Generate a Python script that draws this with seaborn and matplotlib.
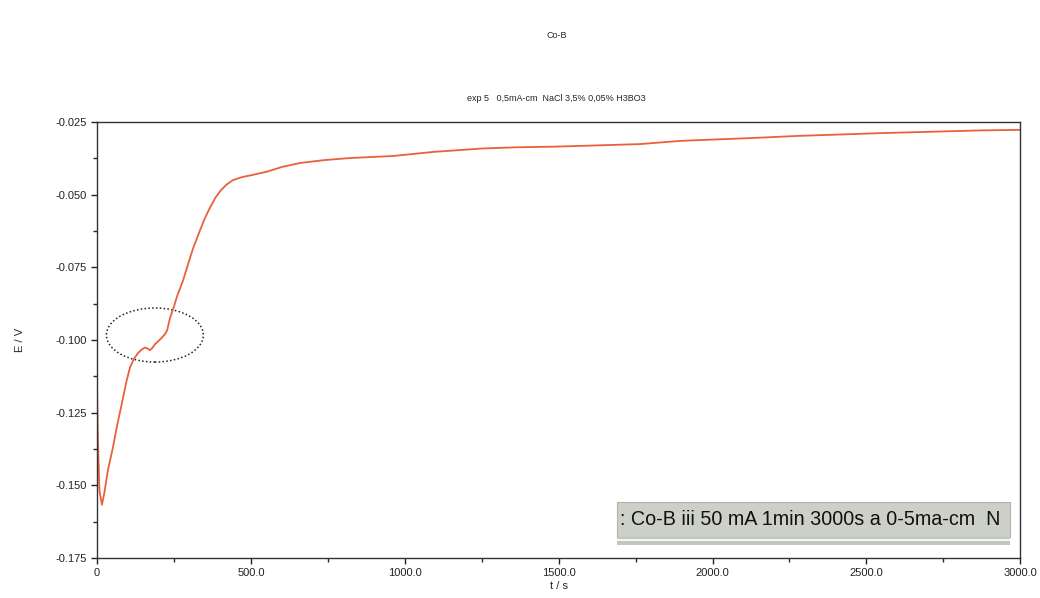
import matplotlib
matplotlib.use("Agg")
import matplotlib.pyplot as plt
from matplotlib.patches import Ellipse, Rectangle
from matplotlib.ticker import MultipleLocator, FuncFormatter
import seaborn as sns
import pandas as pd

sns.set_theme(style="white")
plt.rcParams['font.family'] = ['Liberation Sans', 'DejaVu Sans']

# Data
t_s = [0, 3, 8, 16, 24, 35, 52, 66, 81, 95, 107, 120, 133, 145, 156, 165, 172,
       180, 188, 200, 211, 222, 228, 237, 250, 260, 280, 292, 312, 335, 350, 367,
       385, 400, 420, 442, 470, 497, 552, 600, 660, 740, 822, 962, 1092, 1255,
       1365, 1480, 1580, 1765, 1895, 2132, 2275, 2555, 2870, 3000]
e_v = [-0.117, -0.135, -0.152, -0.1567, -0.1525, -0.1450, -0.1368, -0.129,
       -0.1217, -0.1145, -0.1095, -0.1065, -0.1045, -0.1033, -0.1026, -0.1030,
       -0.1035, -0.1027, -0.1015, -0.1003, -0.0992, -0.0978, -0.0966, -0.0925,
       -0.0885, -0.0850, -0.0794, -0.0752, -0.0685, -0.0622, -0.0582, -0.0545,
       -0.0510, -0.0488, -0.0466, -0.0450, -0.0440, -0.0434, -0.0421, -0.0405,
       -0.0391, -0.0381, -0.0374, -0.0367, -0.0353, -0.0341, -0.0337, -0.0335,
       -0.0332, -0.0326, -0.0315, -0.0305, -0.0298, -0.0288, -0.0279, -0.0277]

x_ticks = [0, 500, 1000, 1500, 2000, 2500, 3000]
y_ticks = [-0.175, -0.150, -0.125, -0.100, -0.075, -0.050, -0.025]

title = "Co-B"
subtitle = "exp 5   0,5mA-cm  NaCl 3,5% 0,05% H3BO3"
legend_text = ": Co-B iii 50 mA 1min 3000s a 0-5ma-cm  N"

df = pd.DataFrame({"t": t_s, "E": e_v})

fig = plt.figure(figsize=(10.4, 5.98), dpi=100)
ax = fig.add_axes([0.0933, 0.067, 0.8877, 0.729])

sns.lineplot(data=df, x="t", y="E", ax=ax, color="#e8603c", linewidth=1.3)

ax.set_xlim(0, 3000)
ax.set_ylim(-0.175, -0.025)
ax.set_xticks(x_ticks)
ax.set_yticks(y_ticks)
ax.xaxis.set_minor_locator(MultipleLocator(250))
ax.yaxis.set_minor_locator(MultipleLocator(0.0125))
ax.xaxis.set_major_formatter(FuncFormatter(lambda v, p: "0" if v == 0 else f"{v:.1f}"))
ax.yaxis.set_major_formatter(FuncFormatter(lambda v, p: f"{v:.3f}"))
ax.tick_params(axis="both", which="major", direction="out", length=4, width=1,
               labelsize=8, colors="#222222", bottom=True, left=True)
ax.tick_params(axis="both", which="minor", direction="out", length=3, width=1,
               bottom=True, left=True)
for s in ax.spines.values():
    s.set_color("#333333")
    s.set_linewidth(1.0)

ax.set_xlabel("t / s", fontsize=8, labelpad=2)
ax.set_ylabel("E / V", fontsize=8, labelpad=22)

fig.text(0.535, 0.94, title, ha="center", va="center", fontsize=6.5)
fig.text(0.535, 0.836, subtitle, ha="center", va="center", fontsize=6.5)

# dotted ellipse highlight
ell = Ellipse((188, -0.0983), width=315, height=0.0186, fill=False,
              edgecolor="#222222", linestyle=(0, (1, 1.5)), linewidth=1.1)
ax.add_patch(ell)

# annotation box bottom-right
ax.add_patch(Rectangle((0.563, 0.048), 0.426, 0.080, transform=ax.transAxes,
                       facecolor="#cdd0c6", edgecolor="#b0b3a8", linewidth=0.8))
ax.add_patch(Rectangle((0.563, 0.030), 0.426, 0.018, transform=ax.transAxes,
                       facecolor="#c4c7bd", edgecolor="none"))
ax.plot([0.563, 0.989], [0.040, 0.040], transform=ax.transAxes, color="white", lw=1.2)
ax.text(0.566, 0.088, legend_text, transform=ax.transAxes, ha="left", va="center",
        fontsize=14.2, color="#111111")

fig.savefig("out.png", dpi=100)
